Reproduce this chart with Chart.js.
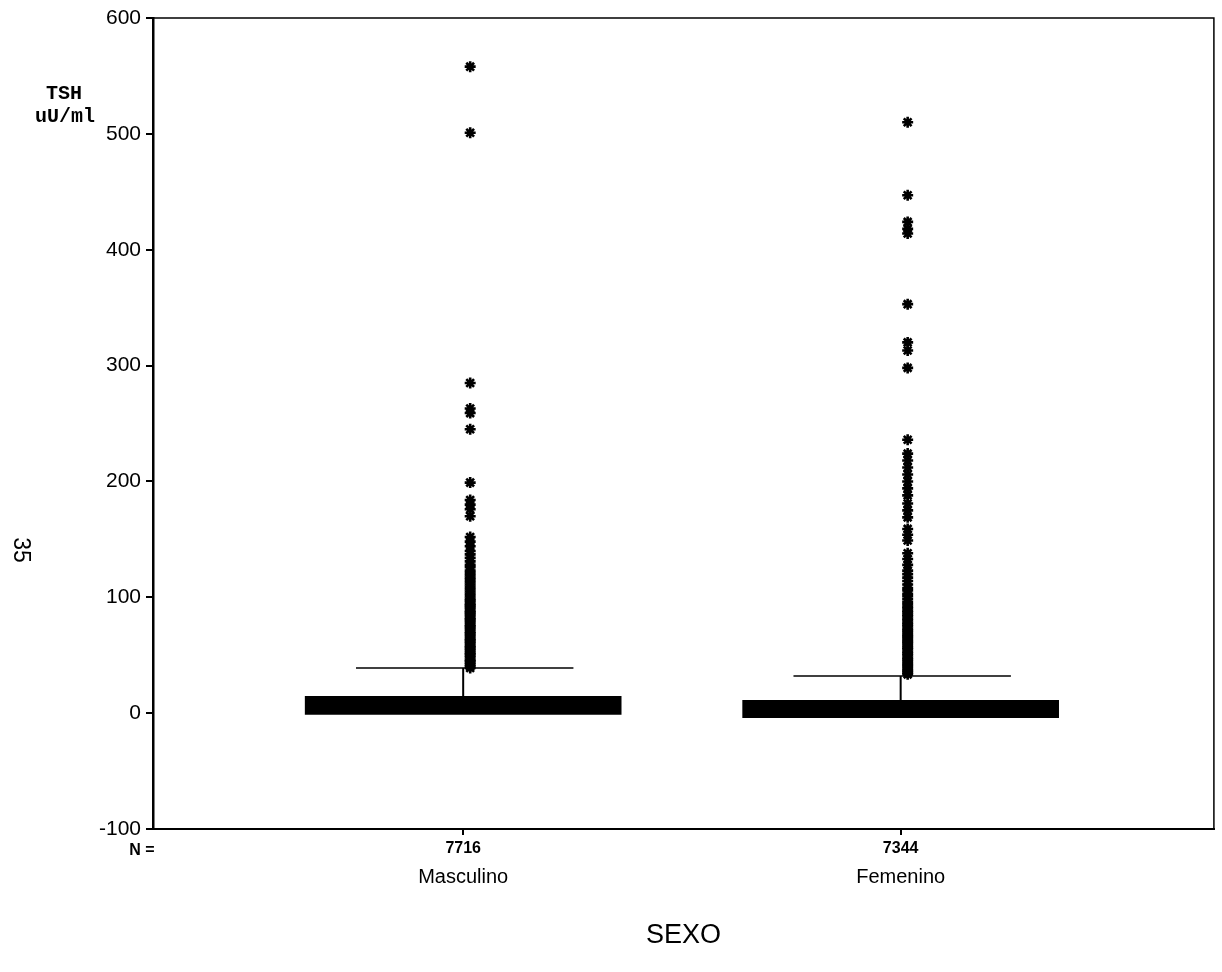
<!DOCTYPE html>
<html>
<head>
<meta charset="utf-8">
<title>TSH por sexo</title>
<script src="https://cdn.jsdelivr.net/npm/chart.js@4.4.1/dist/chart.umd.min.js"></script>
<style>
  html, body { margin: 0; padding: 0; background: #fff; }
  #wrap { width: 1222px; height: 972px; }
</style>
</head>
<body>
<div id="wrap"><canvas id="chart" width="1222" height="972"></canvas></div>
<script>
// box plot of TSH (uU/ml) by sex
const groups = ['Masculino', 'Femenino'];
const counts = ['7716', '7344'];
const boxLow = [-1, -4];
const boxHigh = [14.5, 11];
const whiskerTop = [39, 32];
const yTicks = [-100, 0, 100, 200, 300, 400, 500, 600];
const yTitle = ['TSH', 'uU/ml'];

const outliersMasc = [558, 501, 285, 263, 259, 245, 199, 184, 180, 176, 170, 152, 148, 144, 140,
  137, 134, 131, 128, 126, 123, 121, 119, 117, 115, 113, 111, 109, 107, 105, 103, 101,
  99, 97.5, 96, 94, 93, 91.5, 90, 88, 87, 85.5, 84, 82, 81, 79.5, 78, 76, 75, 73.5, 72,
  70, 69, 67.5, 66, 64, 63, 61.5, 60, 58, 57, 55.5, 54, 52, 51, 49.5, 48, 46, 45, 43.5,
  42, 40.5, 39];
const outliersFem = [510, 447, 424, 418, 414, 353, 320, 313, 298, 236, 224, 218, 212, 206,
  200, 194, 188, 181, 175, 169, 159, 154, 149, 138, 133, 128, 123, 120, 117, 114, 111,
  108, 106, 103, 101, 98.5, 96, 94, 92, 90.5, 88.5, 87, 85, 83.5, 81.5, 80, 78, 76.5, 75,
  73, 71.5, 70, 68, 66.5, 65, 63, 61.5, 60, 58, 56.5, 55, 53, 51.5, 50, 48, 46.5, 45, 43,
  41.5, 40, 38, 36.5, 35, 33.5];
const outliers = [outliersMasc, outliersFem];

const SANS = '"Liberation Sans", Arial, sans-serif';
const MONO = '"Liberation Mono", "DejaVu Sans Mono", monospace';
const X_MIN = -0.709;
const X_MAX = 1.716;

function buildDatasets() {
  const ds = [{
    type: 'bar',
    data: groups.map((g, i) => ({ x: i, y: [boxLow[i], boxHigh[i]] })),
    backgroundColor: '#000',
    borderWidth: 0,
    barThickness: 316,
    order: 3,
  }];
  groups.forEach((g, i) => {
    ds.push({
      type: 'line',
      data: [{ x: i, y: boxHigh[i] }, { x: i, y: whiskerTop[i] }],
      borderColor: '#000', borderWidth: 2, pointRadius: 0, order: 2,
    });
    ds.push({
      type: 'line',
      data: [{ x: i - 0.245, y: whiskerTop[i] }, { x: i + 0.252, y: whiskerTop[i] }],
      borderColor: '#000', borderWidth: 1.5, pointRadius: 0, order: 2,
    });
    ds.push({
      type: 'scatter',
      data: outliers[i].map((v) => ({ x: i + 0.016, y: v })),
      pointStyle: 'star', pointRadius: 5.5, pointBorderWidth: 2.6,
      borderColor: '#000', backgroundColor: '#000', order: 1,
    });
  });
  return ds;
}

const extras = {
  id: 'extras',
  afterDraw(chart) {
    const { ctx, chartArea: a } = chart;
    ctx.save();
    ctx.strokeStyle = '#000';
    ctx.lineWidth = 1.5;
    ctx.beginPath();
    ctx.moveTo(a.left, a.top);
    ctx.lineTo(a.right, a.top);
    ctx.lineTo(a.right, a.bottom);
    ctx.stroke();

    ctx.fillStyle = '#000';
    ctx.textAlign = 'center';
    ctx.textBaseline = 'middle';
    ctx.font = 'bold 20px ' + MONO;
    ctx.fillText(yTitle[0], 64, 94);
    ctx.fillText(yTitle[1], 65, 117);

    ctx.font = 'bold 16px ' + SANS;
    ctx.fillText('N =', 142, 851);

    ctx.translate(20, 550);
    ctx.rotate(Math.PI / 2);
    ctx.font = '23px ' + SANS;
    ctx.fillText('35', 0, 0);
    ctx.restore();
  },
};

function pinTicks(list) {
  return (s) => { s.ticks = list.map((v) => ({ value: v })); };
}

new Chart(document.getElementById('chart'), {
  type: 'bar',
  data: { datasets: buildDatasets() },
  plugins: [extras],
  options: {
    responsive: false,
    animation: false,
    layout: { padding: { top: 18, right: 2, left: 0, bottom: 0 } },
    plugins: { legend: { display: false }, tooltip: { enabled: false } },
    scales: {
      x: {
        type: 'linear', position: 'bottom', weight: 0, offset: false,
        min: X_MIN, max: X_MAX,
        afterBuildTicks: pinTicks(counts.map((c, i) => i)),
        afterFit: (s) => { s.height = 26; },
        ticks: {
          callback: (v) => counts[v],
          font: { family: SANS, size: 16, weight: 'bold' }, color: '#000',
          padding: 4, maxRotation: 0, autoSkip: false,
        },
        grid: { offset: false, drawOnChartArea: false, drawTicks: true, tickLength: 6, color: '#000', lineWidth: 2 },
        border: { display: true, color: '#000', width: 2 },
      },
      x2: {
        type: 'linear', position: 'bottom', weight: 1, offset: false,
        min: X_MIN, max: X_MAX,
        afterBuildTicks: pinTicks(groups.map((g, i) => i)),
        afterFit: (s) => { s.height = 117; },
        ticks: {
          callback: (v) => groups[v],
          font: { family: SANS, size: 20 }, color: '#000',
          padding: 10, maxRotation: 0, autoSkip: false,
        },
        grid: { display: false, drawTicks: false, offset: false },
        border: { display: false },
        title: {
          display: true, text: 'SEXO', color: '#000',
          font: { family: SANS, size: 27 },
          padding: { top: 0, bottom: 20 },
        },
      },
      y: {
        min: -100, max: 600,
        afterBuildTicks: pinTicks(yTicks),
        afterFit: (s) => { s.width = 153; },
        ticks: { font: { family: SANS, size: 21 }, color: '#000', padding: 5 },
        grid: { drawOnChartArea: false, drawTicks: true, tickLength: 7, color: '#000', lineWidth: 2 },
        border: { display: true, color: '#000', width: 2.5 },
      },
    },
  },
});
</script>
</body>
</html>
